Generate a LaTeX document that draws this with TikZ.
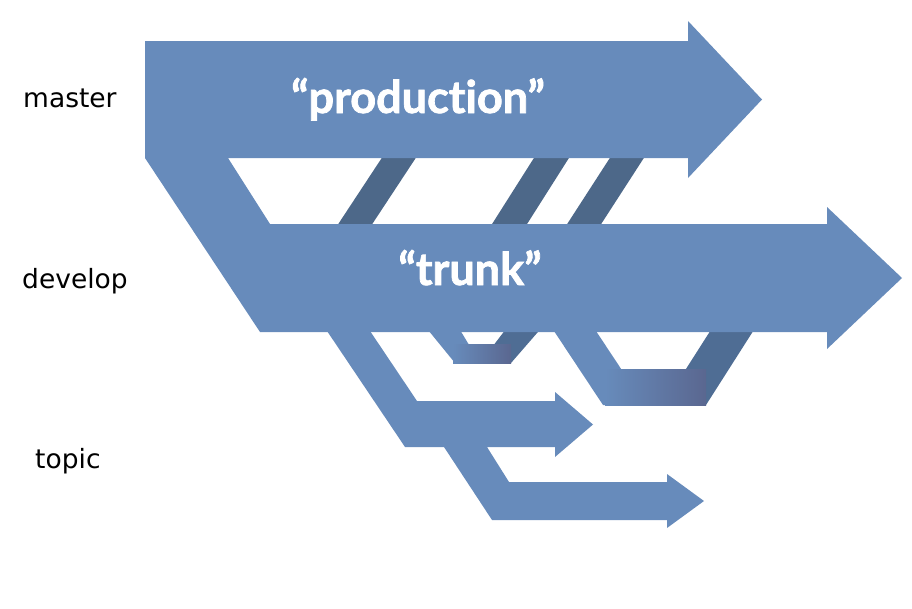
\documentclass[tikz,border=0pt]{standalone}
\usepackage{fontspec}
\setmainfont{DejaVu Sans}
\newfontfamily\bannerfont{Lato}[Ligatures={NoCommon},BoldFeatures={FakeBold=1.6}]
\definecolor{flowblue}{HTML}{678BBB}
\definecolor{mergedark}{HTML}{4D6889}
\definecolor{armdark}{HTML}{4F6D94}
\definecolor{gradend}{HTML}{5A6790}
\begin{document}
\begin{tikzpicture}[x=1pt,y=-1pt,
  flow/.style={fill=flowblue},
  mergeband/.style={fill=mergedark},
  armband/.style={fill=armdark},
  fade/.style={left color=flowblue,right color=gradend},
  lane/.style={font=\fontsize{26.5}{30}\selectfont,text=black,inner sep=0pt,anchor=base west},
  banner/.style={font=\bannerfont\bfseries\fontsize{45}{52}\selectfont,text=white,inner sep=0pt,anchor=base}]
\useasboundingbox (0,0) rectangle (912,608);

% merges from develop back into master
\path[mergeband] (387,150) -- (421,150) -- (367,232) -- (333,232) -- cycle;
\path[mergeband] (539,150) -- (574,150) -- (522,232) -- (487,232) -- cycle;
\path[mergeband] (615,150) -- (649,150) -- (596,232) -- (562,232) -- cycle;

% short topic merged back into develop
\path[armband] (544,325) -- (509,325) -- (480,363) -- (511,363) -- cycle;
\path[flow] (424,325) -- (457,325) -- (480,363) -- (455,363) -- cycle;
\path[fade] (453,344) rectangle (511,363);

% longer topic merged back into develop
\path[armband] (757,325) -- (714,325) -- (663,405) -- (706,405) -- cycle;
\path[flow] (550,325) -- (592,325) -- (645,405) -- (603,405) -- cycle;
\path[fade] (605,369) rectangle (706,405);

% master and develop arrows
\path[flow] (145,41) -- (688,41) -- (688,21) -- (762,99.5) -- (688,178) -- (688,158)
  -- (228,158) -- (270,224) -- (827,224) -- (827,207) -- (902,278) -- (827,349)
  -- (827,332) -- (260,332) -- (145,158) -- cycle;

% topic branches off develop
\path[flow] (323,325) -- (366,325) -- (417,401) -- (555,401) -- (555,392) -- (593,424.5)
  -- (555,457) -- (555,447) -- (487,447) -- (509,482) -- (667,482) -- (667,474)
  -- (704,501) -- (667,528) -- (667,520) -- (492,520) -- (444,447) -- (405,447) -- cycle;

% texts
\node[banner] (prod) at (418,113) {“production”};
\node[banner] (trunk) at (470,285) {“trunk”};
\node[lane] (master) at (23,107) {master};
\node[lane] (develop) at (22,288) {develop};
\node[lane] (topic) at (35,468) {topic};
\end{tikzpicture}
\end{document}
